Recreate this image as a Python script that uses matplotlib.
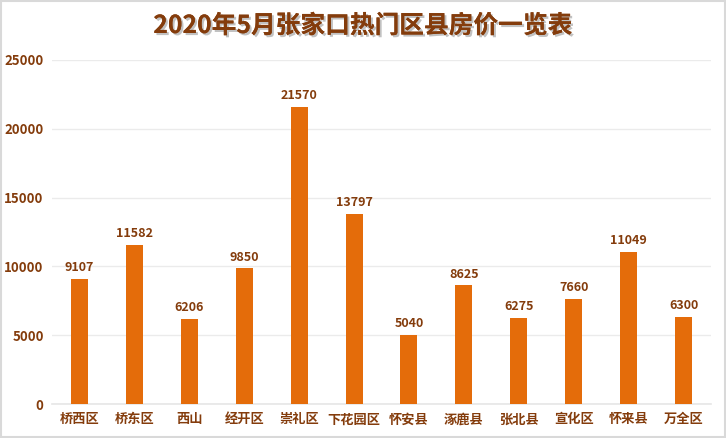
import matplotlib
matplotlib.use("Agg")
import matplotlib.pyplot as plt
import matplotlib.patheffects as pe
from matplotlib.patches import Rectangle

plt.rcParams['font.family'] = ['Noto Sans CJK SC', 'DejaVu Sans']

categories = ["桥西区", "桥东区", "西山", "经开区", "崇礼区", "下花园区", "怀安县", "涿鹿县", "张北县", "宣化区", "怀来县", "万全区"]
values = [9107, 11582, 6206, 9850, 21570, 13797, 5040, 8625, 6275, 7660, 11049, 6300]
yticks = [0, 5000, 10000, 15000, 20000, 25000]

brown = "#843C0C"
orange = "#E46C0A"

fig = plt.figure(figsize=(7.26, 4.38), dpi=100)
fig.patches.append(Rectangle((0.002, 0.003), 0.996, 0.994, transform=fig.transFigure,
                             fill=False, edgecolor="#D9D9D9", linewidth=1.5))
ax = fig.add_axes([52/726, 1 - 404/438, 659/726, 344/438])

x = list(range(len(categories)))
bars = ax.bar(x, values, width=0.31, color=orange, zorder=3)
ax.set_xlim(-0.5, len(categories) - 0.5)
ax.set_ylim(0, 25000)
ax.set_yticks(yticks)
ax.set_yticklabels([str(v) for v in yticks])
ax.set_xticks(x)
ax.set_xticklabels(categories)
ax.grid(axis='y', color="#EBEBEB", linewidth=1, zorder=0)
for s in ["top", "right", "left"]:
    ax.spines[s].set_visible(False)
ax.spines["bottom"].set_color("#E6E6E6")
ax.spines["bottom"].set_linewidth(1.2)
ax.tick_params(axis='both', length=0, labelsize=9.5, labelcolor=brown)
ax.tick_params(axis='x', pad=6)
ax.tick_params(axis='y', pad=6)
for lab in ax.get_xticklabels() + ax.get_yticklabels():
    lab.set_fontweight('bold')

for xi, v in zip(x, values):
    ax.text(xi, v + 350, str(v), ha='center', va='bottom', fontsize=9,
            fontweight='bold', color=brown)

fig.text(0.5, 1 - 26/438, "2020年5月张家口热门区县房价一览表", ha='center', va='center',
         fontsize=17.8, fontweight='bold', color=brown,
         path_effects=[pe.withSimplePatchShadow(offset=(1.5, -1.5), shadow_rgbFace="#999999", alpha=0.6), pe.Normal()])

fig.savefig("out.png", dpi=100)
